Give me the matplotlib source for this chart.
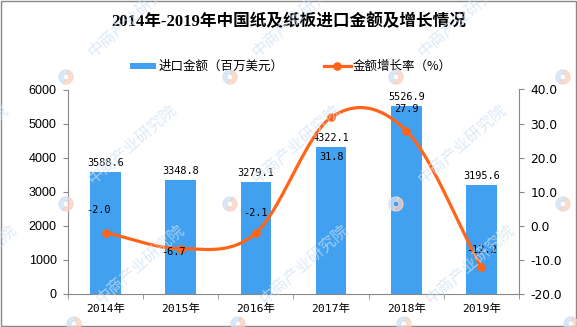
import numpy as np
import matplotlib
matplotlib.use('Agg')
import matplotlib.pyplot as plt
from matplotlib.patches import Rectangle, Wedge
from matplotlib.lines import Line2D
from matplotlib.transforms import IdentityTransform

# ---------------- data ----------------
years = ['2014年', '2015年', '2016年', '2017年', '2018年', '2019年']
amount = [3588.6, 3348.8, 3279.1, 4322.1, 5526.9, 3195.6]
growth = [-2.0, -6.7, -2.1, 31.8, 27.9, -12.2]
left_ticks = [0, 1000, 2000, 3000, 4000, 5000, 6000]
right_ticks = [-20, -10, 0, 10, 20, 30, 40]
title = '2014年-2019年中国纸及纸板进口金额及增长情况'
legend_bar = '进口金额（百万美元）'
legend_line = '金额增长率（%）'
watermark = '中商产业研究院'

# ---------------- style ----------------
BLUE = '#41A0F0'
ORANGE = '#FF6418'
GRAY = '#888888'
W, H = 577, 327
growth_label_offsets = [(-7, 23), (-7, -3), (0, 20), (0, -40), (0, 22), (0, 17)]  # px


def fx(px):
    return px / W


def fy(py):
    return 1 - py / H


def smooth(xs, ys, n=40):
    xs = np.asarray(xs, float)
    ys = np.asarray(ys, float)
    k = len(ys)
    m = np.zeros(k)
    for i in range(k):
        if i == 0:
            m[i] = ys[1] - ys[0]
        elif i == k - 1:
            m[i] = ys[-1] - ys[-2]
        else:
            m[i] = (ys[i + 1] - ys[i - 1]) / 2
    ox, oy = [], []
    for i in range(k - 1):
        t = np.linspace(0, 1, n, endpoint=(i == k - 2))
        h00 = 2 * t**3 - 3 * t**2 + 1
        h10 = t**3 - 2 * t**2 + t
        h01 = -2 * t**3 + 3 * t**2
        h11 = t**3 - t**2
        oy.append(h00 * ys[i] + h10 * m[i] + h01 * ys[i + 1] + h11 * m[i + 1])
        ox.append(xs[i] + t * (xs[i + 1] - xs[i]))
    return np.concatenate(ox), np.concatenate(oy)


fig = plt.figure(figsize=(W / 100, H / 100), dpi=100)

# axes
ax = fig.add_axes([fx(68), 33 / H, 451 / W, 204.5 / H])
ax.set_facecolor('none')
x = np.arange(len(years))
ax.bar(x, amount, width=0.41, color=BLUE, zorder=2)
ax.set_xlim(-0.5, len(years) - 0.5)
ax.set_ylim(left_ticks[0], left_ticks[-1])
ax.set_yticks(left_ticks)
ax.set_yticklabels([str(v) for v in left_ticks], family='Liberation Sans', fontsize=9)
ax.set_xticks(x)
ax.set_xticklabels(years, family=['DejaVu Sans Mono', 'Noto Sans CJK SC'], fontsize=8.2)
ax.set_xticks(np.arange(-0.5, len(years), 1), minor=True)
ax.tick_params(axis='x', which='major', length=0, pad=7)
ax.tick_params(axis='x', which='minor', length=3.6, color=GRAY, direction='out')
ax.tick_params(axis='y', length=3.6, color=GRAY, pad=4.5, direction='out')
for s in ['top', 'right']:
    ax.spines[s].set_visible(False)
for s in ['left', 'bottom']:
    ax.spines[s].set_color(GRAY)

for i, v in enumerate(amount):
    ax.annotate(f'{v:.1f}', (i, v), xytext=(0, 9 * 0.72), textcoords='offset points',
                ha='center', va='center', family='DejaVu Sans Mono', fontsize=7.4,
                color='black', zorder=5)

ax2 = ax.twinx()
ax2.set_ylim(right_ticks[0], right_ticks[-1])
ax2.set_yticks(right_ticks)
ax2.set_yticklabels([f'{v:.1f}' for v in right_ticks], family='DejaVu Sans', fontsize=8.8)
ax2.tick_params(axis='y', length=3.6, color=GRAY, pad=4.5, direction='out')
for s in ['top', 'left', 'bottom']:
    ax2.spines[s].set_visible(False)
ax2.spines['right'].set_color(GRAY)

sx, sy = smooth(x, growth)
ax2.plot(sx, sy, color=ORANGE, lw=2.3, zorder=3, solid_capstyle='round')
ax2.plot(x, growth, 'o', color=ORANGE, ms=5.2, zorder=4)
for i, v in enumerate(growth):
    dx, dy = growth_label_offsets[i]
    ax2.annotate(f'{v:.1f}', (i, v), xytext=(dx * 0.72, dy * 0.72), textcoords='offset points',
                 ha='center', va='center', family='DejaVu Sans Mono', fontsize=7.4,
                 color='black', zorder=5)

# title
fig.text(0.5, fy(21.5), title, ha='center', va='center', fontsize=12, fontweight='bold',
         family=['Liberation Serif', 'Noto Sans CJK SC'])

# legend (manual)
fig.add_artist(Rectangle((fx(130), fy(69)), 26 / W, 6.5 / H, transform=fig.transFigure,
                         color=BLUE, lw=0))
fig.text(fx(159), fy(66), legend_bar, ha='left', va='center', fontsize=9,
         family=['Noto Sans CJK SC', 'DejaVu Sans'])
fig.add_artist(Line2D([fx(324), fx(351)], [fy(66), fy(66)], transform=fig.transFigure,
                      color=ORANGE, lw=2.3))
fig.add_artist(Line2D([fx(337.5)], [fy(66)], transform=fig.transFigure, marker='o',
                      color=ORANGE, ms=5.2))
fig.text(fx(353), fy(66), legend_line, ha='left', va='center', fontsize=9,
         family=['Noto Sans CJK SC', 'DejaVu Sans'])

# watermarks
wm_x = [-35, 133, 297, 463, 630]
wm_y = [18, 145, 265]
for r, yy in enumerate(wm_y):
    for xx in wm_x:
        cx = xx + (8 if r == 2 else 0)
        fig.text(fx(cx), fy(yy), watermark, rotation=41, ha='center', va='center',
                 rotation_mode='anchor', fontsize=11.5, fontweight='medium',
                 color='#CFE1F3', alpha=0.7, family='Noto Sans CJK SC', zorder=10)
        lx, ly = cx - 67, yy + 59
        fig.add_artist(Wedge((lx, H - ly), 7, 70, 250, width=4, transform=IdentityTransform(),
                             color='#CFE1F3', alpha=0.75, zorder=10))
        fig.add_artist(Wedge((lx, H - ly), 7, 250, 430, width=4, transform=IdentityTransform(),
                             color='#F8D2C4', alpha=0.75, zorder=10))

# border
fig.add_artist(Rectangle((1 / W, 1 / H), 575 / W, 325 / H, transform=fig.transFigure,
                         fill=False, edgecolor=GRAY, lw=1))

fig.savefig('out.png', dpi=100)
